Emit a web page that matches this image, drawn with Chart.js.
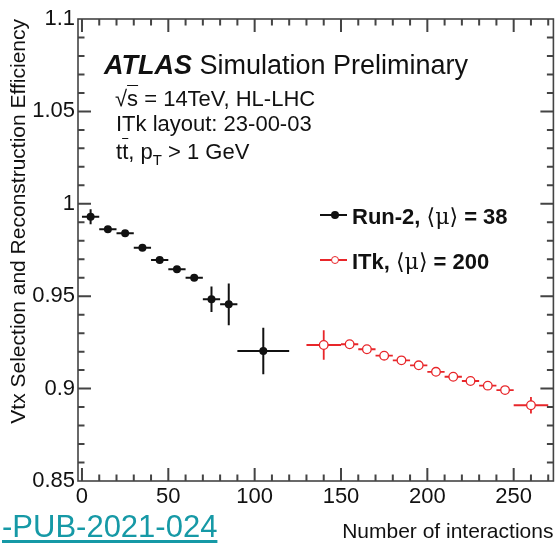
<!DOCTYPE html>
<html>
<head>
<meta charset="utf-8">
<script src="https://cdn.jsdelivr.net/npm/chart.js@4/dist/chart.umd.min.js"></script>
<style>
  html, body { margin: 0; padding: 0; background: #fff; }
  #wrap { position: relative; width: 559px; height: 545px; overflow: hidden; }
  #c { position: absolute; left: 0; top: 0; }
  .t { position: absolute; white-space: nowrap; line-height: 1; color: #111;
       font-family: "Liberation Sans", Arial, Helvetica, sans-serif; }
  .sym { font-family: "DejaVu Serif", "Liberation Serif", serif; font-weight: normal; }
  .ov { text-decoration: overline; text-decoration-thickness: 1px; }
  .mk { position: absolute; }
</style>
</head>
<body>
<div id="wrap">
  <canvas id="c" width="559" height="545"></canvas>

  <div class="t" style="left:104px;top:52px;font-size:27px"><b><i>ATLAS</i></b> Simulation Preliminary</div>
  <div class="t" style="left:115px;top:88px;font-size:22px">√<span class="ov">s</span> = 14TeV, HL-LHC</div>
  <div class="t" style="left:116px;top:113px;font-size:22px">ITk layout: 23-00-03</div>
  <div class="t" style="left:116px;top:141px;font-size:22px">t<span class="ov">t</span>, p<sub style="font-size:15px;vertical-align:-6px">T</sub> &gt; 1 GeV</div>

  <div id="legend"></div>

  <div class="t" style="left:2px;top:511px;font-size:31px;color:#1699a6;text-decoration:underline;text-decoration-thickness:3px;text-underline-offset:3px">-PUB-2021-024</div>
</div>

<script>
// values
const run2X    = [5, 15, 25, 35, 45, 55, 65, 75, 85, 105];
const run2Y    = [0.9930, 0.9862, 0.9840, 0.9762, 0.9696, 0.9646, 0.9600, 0.9483, 0.9456, 0.9203];
const run2XErr = [5, 5, 5, 5, 5, 5, 5, 5, 5, 15];
const run2YErr = [0.004, 0.001, 0.001, 0.001, 0.001, 0.001, 0.001, 0.0069, 0.0113, 0.0126];

const itkX    = [140, 155, 165, 175, 185, 195, 205, 215, 225, 235, 245, 260];
const itkY    = [0.9236, 0.9240, 0.9213, 0.9178, 0.9153, 0.9126, 0.9091, 0.9064, 0.9041, 0.9016, 0.8992, 0.8910];
const itkXErr = [10, 5, 5, 5, 5, 5, 5, 5, 5, 5, 5, 10];
const itkYErr = [0.008, 0.001, 0.001, 0.001, 0.001, 0.001, 0.001, 0.001, 0.001, 0.001, 0.001, 0.0045];

const xTickValues = [0, 50, 100, 150, 200, 250];
const xTickLabels = ['0', '50', '100', '150', '200', '250'];
const yTickValues = [0.85, 0.9, 0.95, 1, 1.05, 1.1];
const yTickLabels = ['0.85', '0.9', '0.95', '1', '1.05', '1.1'];

const legendLabels = [
  ['Run-2, ', '⟨μ⟩', ' = 38'],
  ['ITk, ', '⟨μ⟩', ' = 200'],
];

const BLACK = '#111';
const RED = '#e8262a';
const FONT = '"Liberation Sans", Arial, Helvetica, sans-serif';

function points(xs, ys) {
  return xs.map((x, i) => ({ x, y: ys[i] }));
}

// ROOT style error bars, drawn under the markers
const errorBars = {
  id: 'errorBars',
  beforeDatasetsDraw(chart) {
    const { ctx, scales: { x, y } } = chart;
    ctx.save();
    chart.data.datasets.forEach((ds) => {
      ctx.strokeStyle = ds.borderColor;
      ctx.lineWidth = ds.errWidth;
      ds.data.forEach((p, i) => {
        const px = x.getPixelForValue(p.x), py = y.getPixelForValue(p.y);
        ctx.beginPath();
        ctx.moveTo(x.getPixelForValue(p.x - ds.xErr[i]), py);
        ctx.lineTo(x.getPixelForValue(p.x + ds.xErr[i]), py);
        ctx.moveTo(px, y.getPixelForValue(p.y - ds.yErr[i]));
        ctx.lineTo(px, y.getPixelForValue(p.y + ds.yErr[i]));
        ctx.stroke();
      });
    });
    ctx.restore();
  },
};

// closed frame with inward ticks on all four sides (minor every 10 / 0.01)
const frameTicks = {
  id: 'frameTicks',
  afterDraw(chart) {
    const ctx = chart.ctx;
    const a = chart.chartArea;
    const sx = chart.scales.x, sy = chart.scales.y;
    ctx.save();
    ctx.strokeStyle = '#444';
    ctx.lineWidth = 2;
    ctx.beginPath();
    for (let v = 0; v <= 270; v += 10) {
      const px = sx.getPixelForValue(v);
      const len = v % 50 === 0 ? 13 : 6.5;
      ctx.moveTo(px, a.bottom);
      ctx.lineTo(px, a.bottom - len);
      ctx.moveTo(px, a.top);
      ctx.lineTo(px, a.top + len);
    }
    for (let k = 86; k <= 109; k++) {
      const py = sy.getPixelForValue(k / 100);
      const len = k % 5 === 0 ? 13 : 6.5;
      ctx.moveTo(a.left, py);
      ctx.lineTo(a.left + len, py);
      ctx.moveTo(a.right, py);
      ctx.lineTo(a.right - len, py);
    }
    ctx.stroke();
    ctx.lineWidth = 1.6;
    ctx.strokeRect(a.left, a.top, a.right - a.left, a.bottom - a.top);
    ctx.restore();
  },
};

const chart = new Chart(document.getElementById('c'), {
  type: 'scatter',
  data: {
    datasets: [
      {
        label: 'Run-2',
        data: points(run2X, run2Y),
        xErr: run2XErr, yErr: run2YErr, errWidth: 2,
        pointRadius: 4,
        pointBackgroundColor: BLACK,
        borderColor: BLACK,
        pointBorderWidth: 0,
      },
      {
        label: 'ITk',
        data: points(itkX, itkY),
        xErr: itkXErr, yErr: itkYErr, errWidth: 1.8,
        pointRadius: 4.3,
        pointBackgroundColor: '#fff',
        borderColor: RED,
        pointBorderColor: RED,
        pointBorderWidth: 1.3,
      },
    ],
  },
  options: {
    responsive: false,
    devicePixelRatio: 1,
    animation: false,
    events: [],
    layout: { padding: { top: 19, right: 5, left: 0, bottom: 0 } },
    plugins: { legend: { display: false }, tooltip: { enabled: false } },
    scales: {
      x: {
        type: 'linear',
        min: -2.3,
        max: 273,
        afterBuildTicks: (s) => { s.ticks = xTickValues.map((v) => ({ value: v })); },
        afterFit: (s) => { s.height = 64; },
        grid: { display: false, drawTicks: false },
        border: { display: false },
        ticks: {
          padding: 3,
          maxRotation: 0,
          color: BLACK,
          font: { family: FONT, size: 22 },
          callback: (v) => xTickLabels[xTickValues.indexOf(v)],
        },
        title: {
          display: true,
          text: 'Number of interactions',
          align: 'end',
          color: BLACK,
          font: { family: FONT, size: 21 },
          padding: { top: 0, bottom: 0 },
        },
      },
      y: {
        type: 'linear',
        min: 0.85,
        max: 1.1,
        afterBuildTicks: (s) => { s.ticks = yTickValues.map((v) => ({ value: v })); },
        afterFit: (s) => { s.width = 78; },
        grid: { display: false, drawTicks: false },
        border: { display: false },
        ticks: {
          padding: 3,
          color: BLACK,
          font: { family: FONT, size: 22 },
          callback: (v) => yTickLabels[yTickValues.findIndex((t) => Math.abs(t - v) < 1e-9)],
        },
        title: {
          display: true,
          text: 'Vtx Selection and Reconstruction Efficiency',
          align: 'end',
          color: BLACK,
          font: { family: FONT, size: 21 },
          padding: { top: 7, bottom: 0 },
        },
      },
    },
  },
  plugins: [errorBars, frameTicks],
});

// legend: entries follow the dataset styles
(function buildLegend() {
  const box = document.getElementById('legend');
  const rows = [215, 260];
  chart.data.datasets.forEach((ds, i) => {
    const cy = rows[i];
    const line = document.createElement('div');
    line.className = 'mk';
    line.style.cssText = `left:320px;top:${cy - 1}px;width:27px;height:2px;background:${ds.borderColor}`;
    box.appendChild(line);
    const r = ds.pointRadius;
    const dot = document.createElement('div');
    dot.className = 'mk';
    dot.style.cssText = `left:${335 - r}px;top:${cy - r}px;width:${2 * r}px;height:${2 * r}px;border-radius:50%;box-sizing:border-box;` +
      `background:${ds.pointBackgroundColor};border:${ds.pointBorderWidth || 0}px solid ${ds.borderColor}`;
    box.appendChild(dot);
    const txt = document.createElement('div');
    txt.className = 't';
    txt.style.cssText = `left:352px;top:${cy - 9}px;font-size:22px;font-weight:bold`;
    const parts = legendLabels[i];
    txt.appendChild(document.createTextNode(parts[0]));
    const sym = document.createElement('span');
    sym.className = 'sym';
    sym.textContent = parts[1];
    txt.appendChild(sym);
    txt.appendChild(document.createTextNode(parts[2]));
    box.appendChild(txt);
  });
})();
</script>
</body>
</html>
